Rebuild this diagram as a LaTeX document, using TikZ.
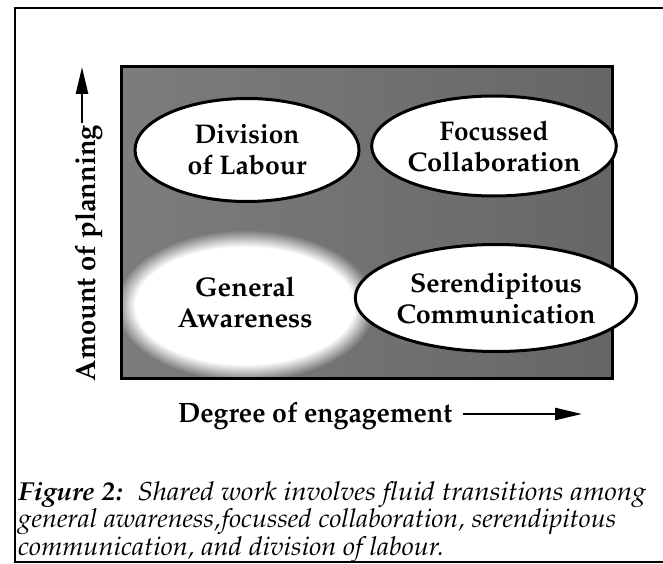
\documentclass[tikz,border=0pt]{standalone}
\usepackage[T1]{fontenc}
\usepackage{graphicx}
\renewcommand{\rmdefault}{ppl}
\usetikzlibrary{shapes.geometric,arrows.meta}
\definecolor{bg}{gray}{0.47}
\definecolor{bgleft}{gray}{0.49}
\definecolor{bgright}{gray}{0.40}
\newsavebox{\fitbox}
\newcommand{\fitto}[2]{\sbox{\fitbox}{#2}\pgfmathsetmacro{\fitsx}{#1/\the\wd\fitbox}\scalebox{\fitsx}[1]{\usebox{\fitbox}}}
\tikzset{
  lbl/.style={align=center, inner sep=0pt, font=\fontsize{27}{31}\selectfont\bfseries},
  axl/.style={inner sep=0pt, font=\fontsize{28}{31}\selectfont\bfseries},
  capl/.style={inner sep=0pt, anchor=base west, font=\fontsize{26}{27.5}\selectfont\itshape},
  oval/.style={lbl, ellipse, draw, line width=3pt, fill=white},
  frame/.style={line width=2.5pt},
  axisarrow/.style={line width=2.5pt, -{Triangle[length=27pt,width=12pt]}},
}
\begin{document}
\begin{tikzpicture}[x=1pt,y=-1pt]
\useasboundingbox (0,0) rectangle (663,564);
% outer frame
\draw[frame] (663,8) -- (15,8) -- (15,562) -- (663,562);
% shaded field
\shade[left color=bgleft, right color=bgright] (121,67) rectangle (612,378);
\coordinate (gac) at (245,306);
\begin{scope}
  \clip (121,67) rectangle (612,378);
  \foreach \i in {0,...,20} {
    \pgfmathtruncatemacro{\pct}{100-5*\i}
    \pgfmathsetmacro{\rx}{130-1.0*\i}
    \pgfmathsetmacro{\ry}{76-0.85*\i}
    \fill[bg!\pct!white] (gac) ellipse [x radius=\rx pt, y radius=\ry pt];
  }
\end{scope}
\draw[line width=3pt] (121,67) rectangle (612,378);
% ellipses
\node[oval, minimum width=224pt, minimum height=103pt] (div) at (247,150) {\fitto{105}{Division}\\\fitto{119}{of Labour}};
\node[oval, minimum width=222pt, minimum height=100pt] (foc) at (494,146) {\fitto{109}{Focussed}\\\fitto{173}{Collaboration}};
\node[lbl] (gen) at (245,302) {\fitto{100}{General}\\\fitto{135}{Awareness}};
\node[oval, minimum width=228pt, minimum height=107pt] (ser) at (496,298) {\fitto{172}{Serendipitous}\\\fitto{199}{Communication}};
% axes
\node[axl, rotate=90, anchor=base] (yl) at (95,253) {\fitto{256}{Amount of planning}};
\coordinate (ya) at (82,123);
\coordinate (yb) at (82,67);
\draw[axisarrow] (ya) -- (yb);
\node[axl, anchor=base west] (xl) at (178,422) {\fitto{274}{Degree of engagement}};
\coordinate (xa) at (463,414);
\coordinate (xb) at (582,414);
\draw[axisarrow] (xa) -- (xb);
% caption
\node[capl] (cap1) at (18,500) {\fitto{628}{\textbf{Figure 2:}\hspace{0.55em}Shared work involves fluid transitions among}};
\node[capl] (cap2) at (18,527.5) {\fitto{598}{general awareness,\kern1pt focussed collaboration, serendipitous}};
\node[capl] (cap3) at (18,555) {\fitto{426}{communication, and division of labour.}};
\end{tikzpicture}
\end{document}
